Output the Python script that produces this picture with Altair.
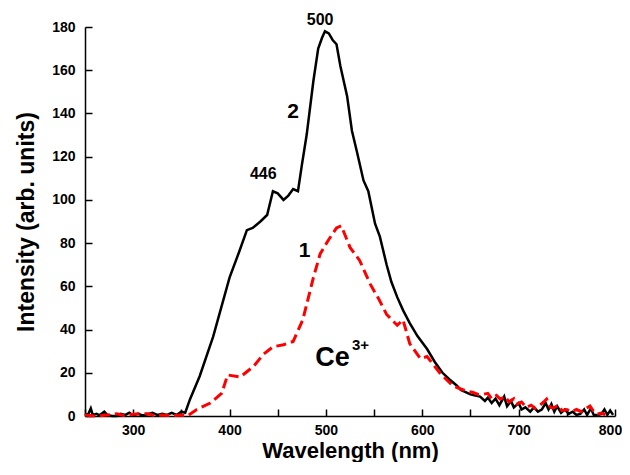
import altair as alt
import pandas as pd

# Curve 2 (black, solid)
w2 = [250, 253, 256, 258, 262, 265, 270, 273, 278, 283, 287, 292, 296, 300, 305, 310, 315, 320, 325, 330,
      335, 340, 345, 350, 354, 359, 369, 383, 400, 410, 418, 424, 432, 439, 445, 450, 456, 461, 466, 471,
      475, 480, 487, 492, 496, 499, 503, 507, 511, 515, 522, 527, 532, 539, 544, 551, 556, 563, 568, 574,
      580, 587, 595, 605, 613, 621, 628, 636, 640, 645, 650, 655, 660, 665, 668, 672, 676, 680, 685, 688,
      692, 695, 700, 703, 707, 712, 716, 720, 724, 728, 731, 734, 737, 740, 744, 748, 752, 756, 760, 764,
      768, 771, 775, 778, 782, 786, 789, 792, 795, 798]
v2 = [1.0, 0.5, 3.5, 0.5, 1.0, 0.3, 2.0, 0.5, 0.0, 0.0, 1.0, 0.5, 1.5, 0.3, 1.0, 0.3, 0.8, 1.5, 0.5, 1.0,
      0.5, 1.5, 0.5, 2.0, 1.5, 7.8, 18.4, 36.7, 64.0, 76.0, 86.0, 87.0, 90.0, 93.0, 104.0, 103.0, 100.0, 102.0, 105.0, 104.0,
      116.0, 130.0, 155.0, 170.0, 175.0, 178.0, 177.0, 174.0, 172.0, 162.0, 148.0, 132.0, 122.6, 109.0, 104.0, 89.0, 83.0, 70.0, 62.0, 55.0,
      49.0, 43.0, 37.0, 31.0, 25.0, 20.0, 17.0, 14.0, 12.0, 11.0, 10.0, 9.5, 9.0, 7.0, 8.5, 6.0, 8.0, 5.0, 9.0, 4.5,
      7.0, 4.0, 6.0, 3.0, 4.0, 2.0, 4.0, 2.0, 3.0, 6.0, 3.0, 5.5, 2.0, 4.5, 1.5, 3.0, 1.0, 2.0, 0.5, 1.0,
      3.0, 0.5, 3.5, 0.5, 0.5, 1.0, 3.0, 0.5, 2.5, 0.5]

# Curve 1 (red, dashed)
w1 = [250, 260, 270, 283, 290, 305, 315, 322, 330, 340, 350, 356, 366, 380, 392, 398, 411, 425, 435, 445,
      456, 466, 476, 487, 494, 502, 511, 516, 525, 535, 546, 555, 563, 574, 580, 587, 598, 605, 618, 632,
      640, 646, 652, 658, 663, 668, 672, 677, 681, 686, 690, 695, 698, 703, 708, 713, 717, 722, 726, 729,
      733, 736, 741, 745, 750, 755, 760, 765, 770, 774, 778, 782, 786, 790]
v1 = [0.5, 0.0, 0.3, 1.0, 0.2, 1.0, 1.0, 0.2, 0.5, 0.2, 0.5, 0.0, 3.0, 6.0, 10.6, 19.0, 18.0, 23.0, 28.5, 32.0,
      33.0, 34.5, 44.5, 64.0, 75.0, 81.0, 87.0, 88.0, 78.0, 72.0, 61.0, 54.0, 47.0, 42.0, 44.5, 33.5, 26.6, 27.5, 20.0, 13.8,
      12.5, 11.5, 11.0, 10.0, 10.0, 10.5, 8.0, 9.5, 7.8, 9.0, 6.5, 8.0, 5.5, 6.5, 4.0, 5.0, 3.5, 5.0, 6.5, 7.8,
      4.0, 3.7, 5.0, 2.5, 3.0, 2.0, 3.0, 2.0, 3.5, 4.6, 2.0, 1.0, 1.4, 0.5]

# Annotations
ann_text = ["500", "446", "2", "1"]
ann_w = [494, 435, 466, 478]
ann_v = [181, 109.6, 137.7, 73.7]
ann_size = [16, 16, 21, 21]

df2 = pd.DataFrame({"w": w2, "v": v2})
df1 = pd.DataFrame({"w": w1, "v": v1})
dfa = pd.DataFrame({"t": ann_text, "w": ann_w, "v": ann_v, "s": ann_size})
dfce = pd.DataFrame({"t": ["Ce"], "w": [489], "v": [23]})
dfsup = pd.DataFrame({"t": ["3+"], "w": [527], "v": [30.4]})

FONT = "Liberation Sans"

xs = alt.Scale(domain=[250, 800], nice=False, zero=False)
ys = alt.Scale(domain=[0, 180], nice=False)

xaxis = alt.Axis(
    title="Wavelength (nm)", values=list(range(250, 801, 50)),
    labelExpr="datum.value % 100 == 0 ? datum.label : ''",
    grid=False, domainColor="black", domainWidth=1.5, tickColor="black", tickWidth=1.5,
    tickSize={"expr": "-7"}, labelPadding=14, labelFlush=False, labelOverlap=False,
    labelOffset={"condition": {"test": "datum.value == 800", "value": -5}, "value": 0},
    labelFont=FONT, labelFontSize=14, labelFontWeight="bold", labelColor="black",
    titleFont=FONT, titleFontSize=22, titleFontWeight="bold", titleColor="black",
    titleBaseline="alphabetic", titleY=41,
)
yaxis = alt.Axis(
    title="Intensity (arb. units)", values=list(range(0, 181, 10)),
    labelExpr="datum.value % 20 == 0 ? datum.label : ''",
    grid=False, domainColor="black", domainWidth=1.5, tickColor="black", tickWidth=1.5,
    tickSize={"expr": "-7"}, labelPadding=17, labelFlush=False, labelOverlap=False,
    labelFont=FONT, labelFontSize=14, labelFontWeight="bold", labelColor="black",
    titleFont=FONT, titleFontSize=23, titleFontWeight="bold", titleColor="black", titlePadding=13,
)

line2 = alt.Chart(df2).mark_line(color="black", strokeWidth=2.5).encode(
    x=alt.X("w:Q", scale=xs, axis=xaxis),
    y=alt.Y("v:Q", scale=ys, axis=yaxis),
)
line1 = alt.Chart(df1).mark_line(color="#ff0000", strokeWidth=3, strokeDash=[10, 5]).encode(
    x=alt.X("w:Q", scale=xs),
    y=alt.Y("v:Q", scale=ys),
)
ann = alt.Chart(dfa).mark_text(font=FONT, fontWeight="bold", color="black", baseline="alphabetic", align="center").encode(
    x=alt.X("w:Q", scale=xs), y=alt.Y("v:Q", scale=ys), text="t:N",
    size=alt.Size("s:Q", scale=None, legend=None),
)
ce = alt.Chart(dfce).mark_text(font=FONT, fontWeight="bold", color="black", baseline="alphabetic", align="left", fontSize=27).encode(
    x=alt.X("w:Q", scale=xs), y=alt.Y("v:Q", scale=ys), text="t:N",
)
sup = alt.Chart(dfsup).mark_text(font=FONT, fontWeight="bold", color="black", baseline="alphabetic", align="left", fontSize=15).encode(
    x=alt.X("w:Q", scale=xs), y=alt.Y("v:Q", scale=ys), text="t:N",
)

chart = alt.layer(line2, line1, ann, ce, sup).properties(
    width=530, height=389,
    autosize=alt.AutoSizeParams(type="none"),
    padding={"left": 77, "top": 19, "right": 7, "bottom": 46},
).configure(background="white").configure_view(stroke=None)

chart.save("out.html", embed_options={"renderer": "svg", "actions": False})
